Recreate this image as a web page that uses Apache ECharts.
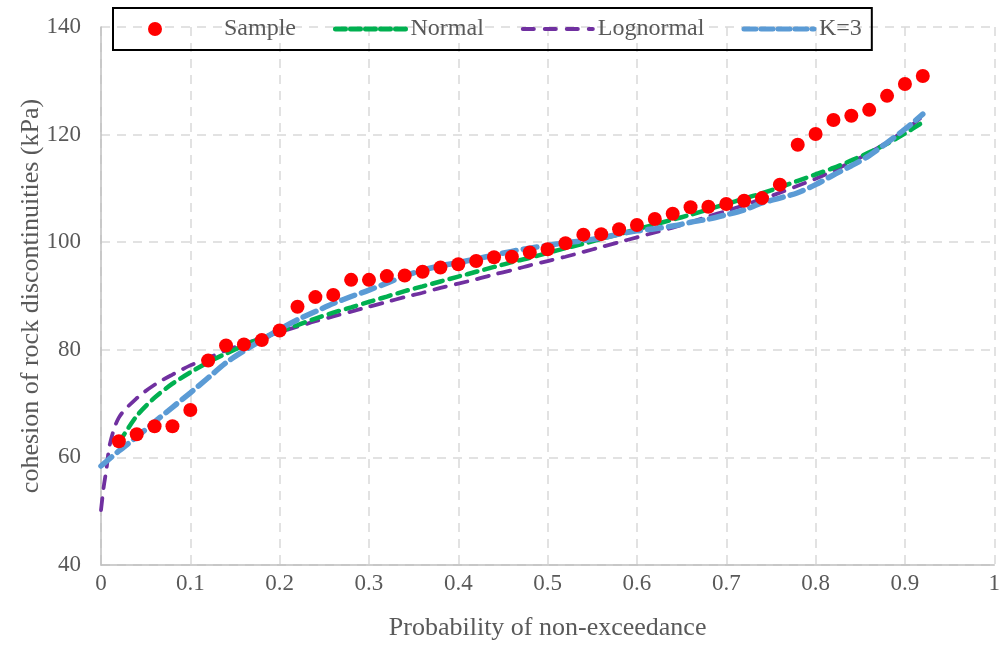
<!DOCTYPE html>
<html>
<head>
<meta charset="utf-8">
<script src="https://cdn.jsdelivr.net/npm/echarts@6/dist/echarts.min.js"></script>
<style>
html,body{margin:0;padding:0;background:#fff;}
#chart{width:1003px;height:648px;}
</style>
</head>
<body>
<div id="chart"></div>
<script>
// Sample points
var sampleP = [0.02,0.04,0.06,0.08,0.10,0.12,0.14,0.16,0.18,0.20,0.22,0.24,0.26,0.28,0.30,0.32,0.34,0.36,0.38,0.40,0.42,0.44,0.46,0.48,0.50,0.52,0.54,0.56,0.58,0.60,0.62,0.64,0.66,0.68,0.70,0.72,0.74,0.76,0.78,0.80,0.82,0.84,0.86,0.88,0.90,0.92];
var sampleC = [63.0,64.3,65.8,65.8,68.8,78.0,80.8,81.0,81.8,83.6,88.0,89.8,90.2,93.0,93.0,93.7,93.8,94.5,95.3,95.9,96.5,97.2,97.3,98.1,98.7,99.8,101.4,101.5,102.4,103.2,104.3,105.3,106.5,106.6,107.1,107.7,108.2,110.7,118.1,120.1,122.7,123.5,124.6,127.2,129.4,130.9];

// Normal fit curve
var normalP = [0.02,0.04,0.06,0.08,0.10,0.12,0.14,0.16,0.18,0.20,0.22,0.24,0.26,0.28,0.30,0.32,0.34,0.36,0.38,0.40,0.42,0.44,0.46,0.48,0.50,0.52,0.54,0.56,0.58,0.60,0.62,0.64,0.66,0.68,0.70,0.72,0.74,0.76,0.78,0.80,0.82,0.84,0.86,0.88,0.90,0.92];
var normalC = [62.7,67.7,71.1,73.7,75.8,77.7,79.3,80.8,82.2,83.4,84.6,85.8,86.9,87.9,88.9,89.9,90.9,91.8,92.7,93.6,94.5,95.4,96.3,97.1,98.0,98.9,99.7,100.6,101.5,102.4,103.3,104.2,105.1,106.1,107.1,108.1,109.1,110.2,111.4,112.6,113.8,115.2,116.7,118.3,120.2,122.3];

// Lognormal fit curve
var lognormalP = [0,0.003,0.006,0.01,0.02,0.04,0.06,0.08,0.10,0.12,0.14,0.16,0.18,0.20,0.22,0.24,0.26,0.28,0.30,0.32,0.34,0.36,0.38,0.40,0.42,0.44,0.46,0.48,0.50,0.52,0.54,0.56,0.58,0.60,0.62,0.64,0.66,0.68,0.70,0.72,0.74,0.76,0.78,0.80,0.82,0.84,0.86,0.88,0.90,0.92];
var lognormalC = [50.2,54.5,57.7,62.5,67.4,71.0,73.5,75.4,77.1,78.5,79.9,81.1,82.2,83.3,84.3,85.3,86.2,87.1,88.0,88.9,89.8,90.6,91.5,92.3,93.1,94.0,94.8,95.7,96.5,97.3,98.2,99.1,100.0,100.9,101.8,102.7,103.7,104.8,105.8,106.9,108.0,109.2,110.5,111.8,113.3,114.9,116.6,118.6,120.8,123.4];

// K=3 curve
var k3P = [0,0.02,0.04,0.06,0.08,0.10,0.12,0.14,0.16,0.18,0.20,0.22,0.24,0.26,0.28,0.30,0.32,0.34,0.36,0.38,0.40,0.42,0.44,0.46,0.48,0.50,0.52,0.54,0.56,0.58,0.60,0.62,0.64,0.66,0.68,0.70,0.72,0.74,0.76,0.78,0.80,0.82,0.84,0.86,0.88,0.90,0.92];
var k3C = [58.4,61.2,63.8,66.6,69.3,72.0,74.8,77.6,79.8,81.8,83.8,85.6,87.1,88.6,89.9,91.1,92.4,93.7,94.8,95.6,96.2,96.9,97.6,98.3,98.9,99.4,99.9,100.3,100.8,101.5,102.1,102.5,103.0,103.7,104.3,105.1,106.0,107.3,108.2,109.2,110.7,112.5,114.2,116.1,118.5,121.0,123.8];

var xTicks = ['0','0.1','0.2','0.3','0.4','0.5','0.6','0.7','0.8','0.9','1'];
var seriesNames = ['Sample','Normal','Lognormal','K=3'];

function zip(a,b){ return a.map(function(v,i){ return [v,b[i]]; }); }

var FONT = '"Liberation Serif","Times New Roman",serif';
var TXT = '#595959';

var chart = echarts.init(document.getElementById('chart'), null, {renderer:'canvas'});
chart.setOption({
  animation:false,
  backgroundColor:'#ffffff',
  grid:{left:101, right:6, top:27, bottom:83, containLabel:false},
  legend:{
    left:113, top:8,
    padding:[9,10,9,35],
    borderColor:'#000', borderWidth:2,
    itemWidth:70, itemHeight:14, itemGap:37,
    textStyle:{fontFamily:FONT, fontSize:24, color:TXT},
    data:[
      {name:seriesNames[0], textStyle:{padding:[0,0,0,29]}},
      {name:seriesNames[1], itemStyle:{opacity:0}, lineStyle:{width:5, type:[10,5], cap:'round'}},
      {name:seriesNames[2], itemStyle:{opacity:0}, lineStyle:{width:4, type:[11,11], cap:'round'}},
      {name:seriesNames[3], itemStyle:{opacity:0}, lineStyle:{width:5, type:[12,5], cap:'round'}}
    ]
  },
  xAxis:{
    type:'value', min:0, max:1, interval:0.1,
    name:'Probability of non-exceedance', nameLocation:'middle', nameGap:50,
    nameMoveOverlap:false,
    nameTextStyle:{fontFamily:FONT, fontSize:26, color:TXT},
    axisLine:{show:true, lineStyle:{color:'#bfbfbf', width:1.5}},
    axisTick:{show:false},
    axisLabel:{fontFamily:FONT, fontSize:23, color:TXT, margin:7,
      formatter:function(v){ return xTicks[Math.round(v*10)]; }},
    splitLine:{show:true, lineStyle:{color:'#d9d9d9', width:1.5, type:[9,7]}}
  },
  yAxis:{
    type:'value', min:40, max:140, interval:20,
    name:'cohesion of rock discontinuities (kPa)', nameLocation:'middle', nameGap:57,
    nameMoveOverlap:false,
    nameTextStyle:{fontFamily:FONT, fontSize:26, color:TXT},
    axisLine:{show:true, lineStyle:{color:'#bfbfbf', width:1.5}},
    axisTick:{show:false},
    axisLabel:{fontFamily:FONT, fontSize:23, color:TXT, margin:20},
    splitLine:{show:true, lineStyle:{color:'#d9d9d9', width:1.5, type:[9,7]}}
  },
  series:[
    {
      name:seriesNames[0], type:'scatter', data:zip(sampleP,sampleC),
      symbol:'circle', symbolSize:14, itemStyle:{color:'#ff0000', opacity:1}, z:5
    },
    {
      name:seriesNames[1], type:'line', data:zip(normalP,normalC), smooth:0.3,
      symbol:'none', showSymbol:false, color:'#00b050',
      lineStyle:{color:'#00b050', width:4.5, type:[11,7], cap:'round'}, z:3
    },
    {
      name:seriesNames[2], type:'line', data:zip(lognormalP,lognormalC), smooth:0.3,
      symbol:'none', showSymbol:false, color:'#7030a0',
      lineStyle:{color:'#7030a0', width:3.8, type:[12,10], cap:'round'}, z:2
    },
    {
      name:seriesNames[3], type:'line', data:zip(k3P,k3C), smooth:0.3,
      symbol:'none', showSymbol:false, color:'#5b9bd5',
      lineStyle:{color:'#5b9bd5', width:5.5, type:[14,7], cap:'round'}, z:4
    }
  ]
});
</script>
</body>
</html>
